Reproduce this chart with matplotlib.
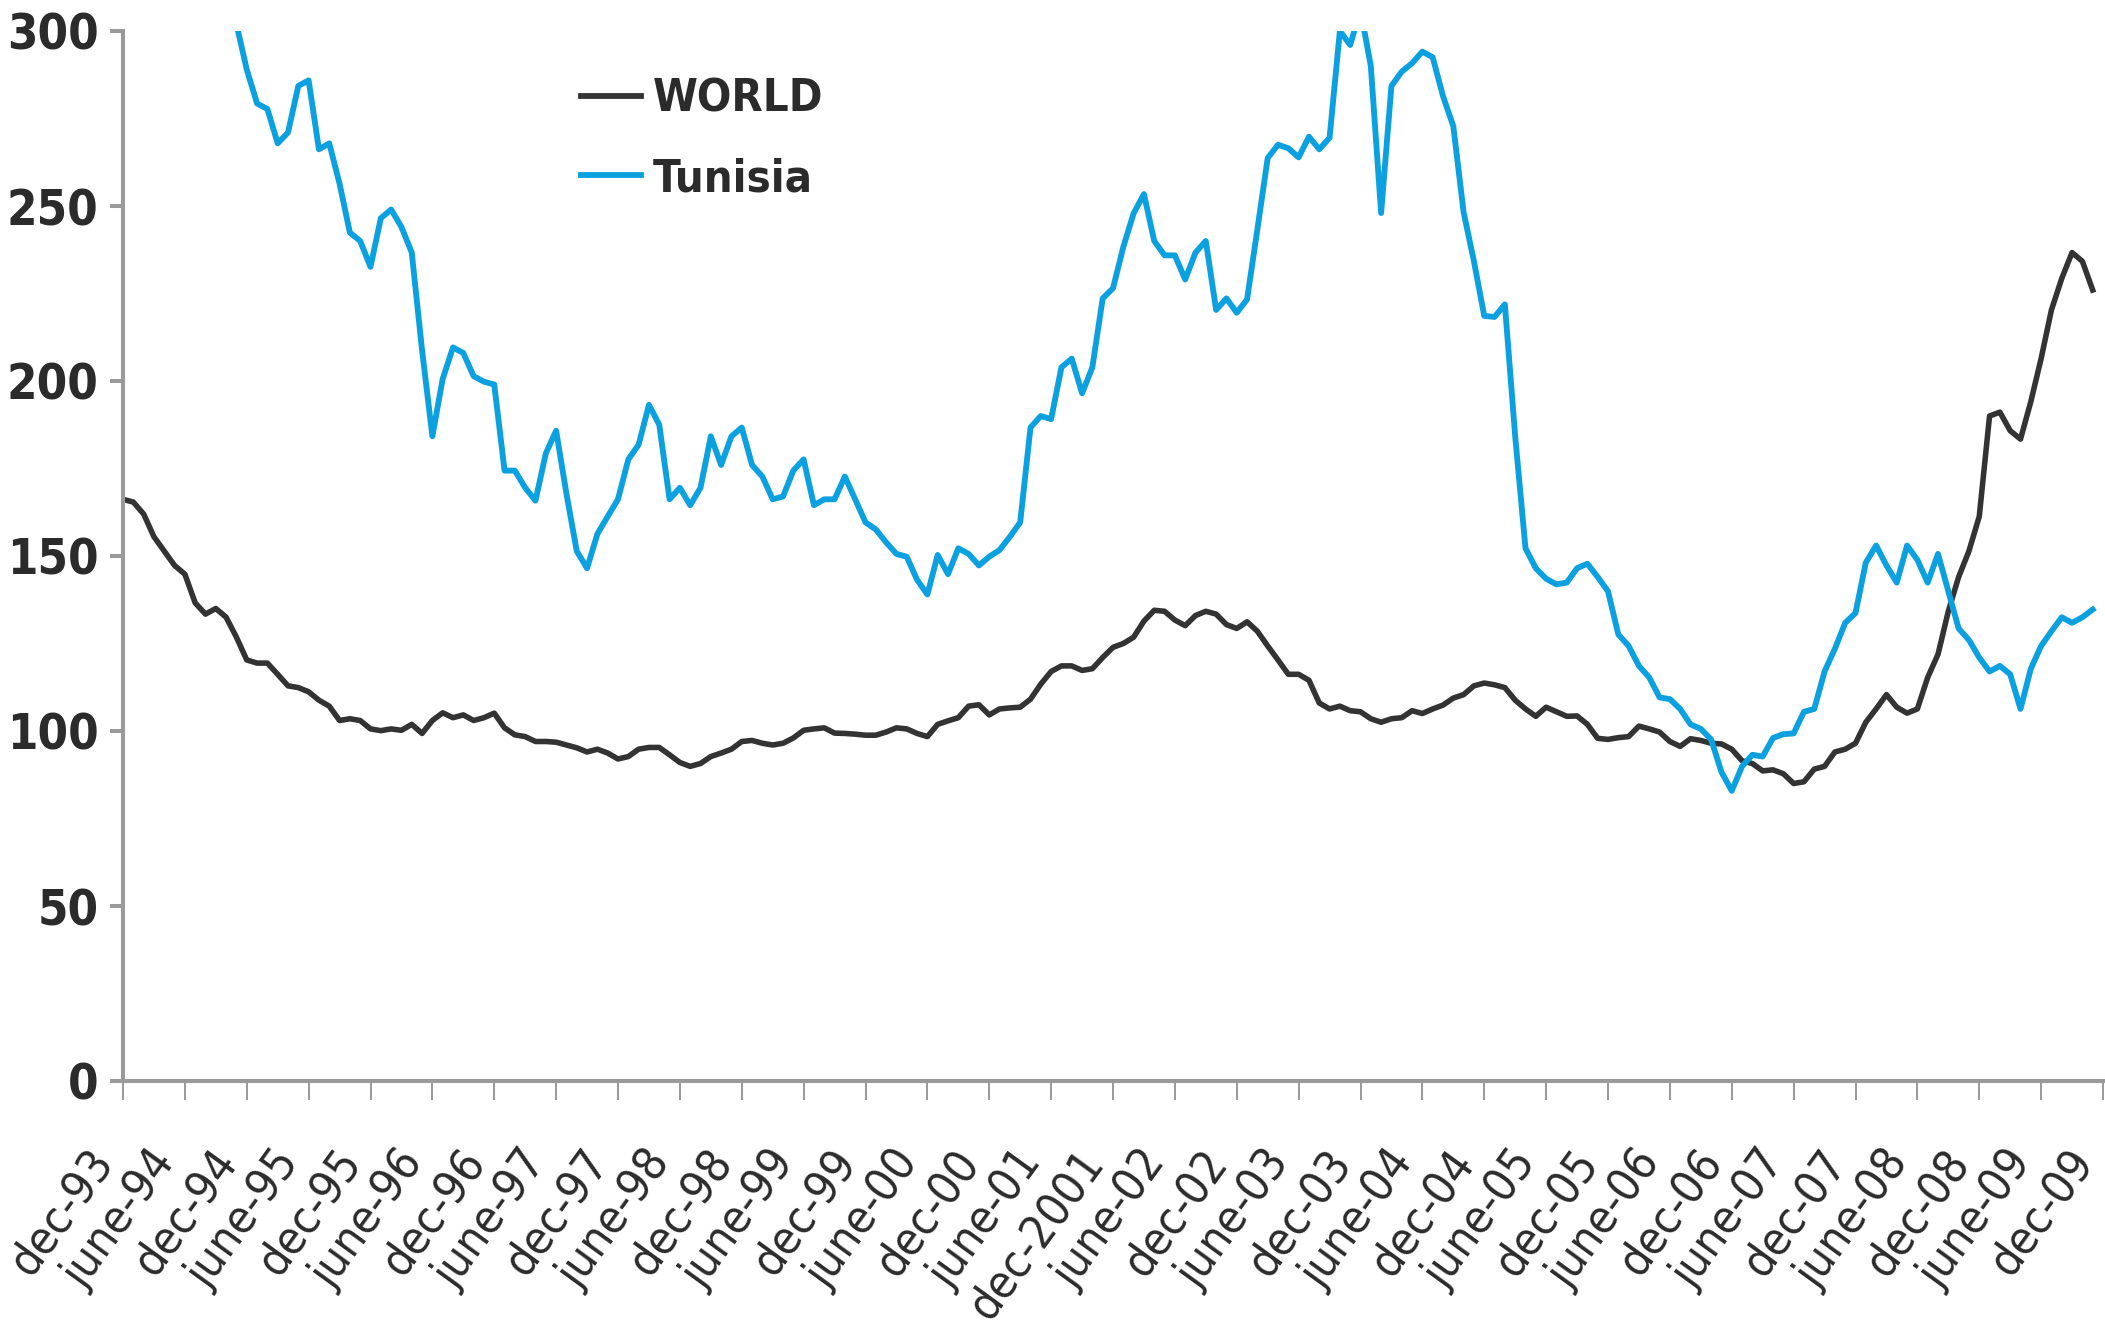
import numpy as np
import matplotlib
matplotlib.use("Agg")
import matplotlib.pyplot as plt
from matplotlib import font_manager as fm

# monthly index values, dec-93 .. nov-09
world = [166.2, 165.4, 162.0, 155.5, 151.4, 147.3, 144.8, 136.6, 133.4, 135.0,
         132.5, 126.8, 120.3, 119.4, 119.4, 116.2, 112.9, 112.4, 111.2, 108.8,
         107.1, 103.0, 103.5, 103.0, 100.6, 100.1, 100.6, 100.2, 101.9, 99.3,
         103.0, 105.2, 103.8, 104.6, 103.0, 103.8, 105.1, 100.9, 98.9, 98.4,
         97.0, 97.0, 96.8, 96.0, 95.2, 94.0, 94.8, 93.7, 92.0, 92.7,
         94.8, 95.3, 95.3, 93.2, 91.0, 89.9, 90.7, 92.7, 93.7, 94.8,
         97.0, 97.3, 96.5, 96.0, 96.5, 98.0, 100.2, 100.6, 100.9, 99.4,
         99.3, 99.1, 98.8, 98.8, 99.7, 100.9, 100.6, 99.3, 98.4, 101.9,
         102.9, 103.8, 107.1, 107.5, 104.6, 106.3, 106.6, 106.8, 109.1, 113.4,
         117.0, 118.6, 118.6, 117.3, 117.8, 121.0, 123.9, 125.0, 126.8, 131.4,
         134.5, 134.2, 131.7, 130.1, 133.0, 134.2, 133.4, 130.4, 129.3, 131.2,
         128.5, 124.3, 120.3, 116.2, 116.2, 114.5, 108.0, 106.3, 107.1, 105.8,
         105.5, 103.5, 102.5, 103.5, 103.8, 105.8, 105.0, 106.3, 107.4, 109.4,
         110.4, 112.9, 113.7, 113.2, 112.4, 108.8, 106.3, 104.2, 106.8, 105.5,
         104.2, 104.3, 101.9, 97.9, 97.6, 98.1, 98.4, 101.4, 100.6, 99.7,
         97.0, 95.6, 97.8, 97.3, 96.5, 96.3, 94.8, 91.5, 90.7, 88.6,
         88.9, 87.8, 85.0, 85.5, 89.1, 89.9, 94.0, 94.8, 96.5, 102.5,
         106.3, 110.4, 106.8, 105.1, 106.3, 115.3, 121.9, 134.2, 144.0, 151.4,
         161.3, 190.0, 191.1, 185.8, 183.4, 194.1, 206.4, 220.3, 229.3, 236.7,
         234.2, 226.0]
nan = np.nan
tunisia = [nan, nan, nan, nan, nan, nan, nan, nan, nan, nan,
           nan, 302.0, 289.0, 279.3, 277.7, 267.9, 271.0, 284.3, 285.9, 266.2,
           267.9, 256.4, 242.4, 240.0, 232.6, 246.5, 249.0, 244.0, 236.7, 208.8,
           184.2, 200.6, 209.6, 208.0, 201.4, 199.8, 199.0, 174.4, 174.4, 169.5,
           165.8, 179.3, 185.8, 167.8, 151.4, 146.5, 156.3, 161.3, 166.2, 177.6,
           181.8, 193.2, 187.5, 166.2, 169.5, 164.5, 169.5, 184.2, 176.0, 184.2,
           186.7, 176.0, 172.7, 166.2, 167.0, 174.4, 177.6, 164.5, 166.2, 166.2,
           172.7, 166.2, 159.6, 157.6, 153.9, 150.6, 149.8, 143.2, 139.0, 150.3,
           144.8, 152.2, 150.6, 147.3, 149.8, 151.7, 155.5, 159.6, 186.7, 190.0,
           189.1, 203.9, 206.4, 196.5, 203.9, 223.6, 226.5, 238.3, 247.9, 253.4,
           240.0, 235.9, 235.9, 229.0, 236.7, 240.0, 220.3, 223.6, 219.5, 223.3,
           243.3, 263.7, 267.5, 266.5, 263.9, 269.8, 266.2, 269.5, 300.0, 296.0,
           306.0, 290.0, 248.0, 284.3, 288.4, 290.8, 294.1, 292.5, 281.4, 272.8,
           248.2, 234.2, 218.6, 218.3, 221.9, 184.2, 152.2, 146.5, 143.5, 141.9,
           142.4, 146.5, 147.8, 144.0, 139.9, 127.6, 124.3, 118.6, 115.3, 109.6,
           109.1, 106.3, 101.9, 100.6, 97.6, 88.3, 82.9, 89.9, 93.2, 92.7,
           98.0, 99.1, 99.3, 105.5, 106.3, 117.0, 123.5, 130.9, 133.7, 148.1,
           153.0, 147.3, 142.4, 153.0, 148.9, 142.4, 150.6, 139.9, 129.3, 126.0,
           121.0, 117.0, 118.6, 116.2, 106.3, 117.8, 124.3, 128.5, 132.5, 130.9,
           132.5, 134.7]
tick_labels = ["dec-93", "june-94", "dec-94", "june-95", "dec-95", "june-96", "dec-96",
               "june-97", "dec-97", "june-98", "dec-98", "june-99", "dec-99", "june-00",
               "dec-00", "june-01", "dec-2001", "june-02", "dec-02", "june-03", "dec-03",
               "june-04", "dec-04", "june-05", "dec-05", "june-06", "dec-06", "june-07",
               "dec-07", "june-08", "dec-08", "june-09", "dec-09"]
yticks = [0, 50, 100, 150, 200, 250, 300]

# the original uses a narrow face; take a condensed one if one is installed
fam, stretch, k = "Liberation Sans", "normal", 0.82
narrow = [f for f in fm.fontManager.ttflist if "Narrow" in f.fname or "Condensed" in f.fname]
if any(f.name == "Liberation Sans Narrow" for f in narrow):
    fam, k = "Liberation Sans Narrow", 1.0
elif any(f.name == "DejaVu Sans" for f in narrow):
    fam, stretch, k = "DejaVu Sans", "condensed", 0.88
plt.rcParams["font.family"] = [fam, "DejaVu Sans"]
plt.rcParams["font.stretch"] = stretch
TXT = "#2b2b2b"; GREY = "#9a9a9a"

fig = plt.figure(figsize=(21.05, 13.3), dpi=100)
ax = fig.add_axes([123/2105, 1-1081/1330, 1980/2105, 1050/1330])
x = np.arange(len(world))
ax.plot(x, world, color="#333333", lw=4.0, label="WORLD", solid_joinstyle="round")
ax.plot(x, tunisia, color="#0ba0e0", lw=4.2, label="Tunisia", solid_joinstyle="round")
ax.set_xlim(0, 6*(len(tick_labels)-1)); ax.set_ylim(0, 300)
ax.set_yticks(yticks); ax.set_yticklabels([str(v) for v in yticks])
ax.set_xticks(np.arange(len(tick_labels))*6)
ax.set_xticklabels(tick_labels, rotation=54, ha="right", va="top")
for s in ["top", "right"]: ax.spines[s].set_visible(False)
for s in ["left", "bottom"]:
    ax.spines[s].set_color(GREY); ax.spines[s].set_linewidth(2.9)
ax.tick_params(axis="y", length=9.5, width=2.9, color=GREY, pad=8, labelsize=40*k, labelcolor=TXT)
ax.tick_params(axis="x", length=13.5, width=1.4, color=GREY, pad=30, labelsize=38*k, labelcolor=TXT)
for t in ax.get_yticklabels(): t.set_fontweight("bold")
leg = ax.legend(loc="upper left", bbox_to_anchor=((581-123)/1980, (1081-78)/1050), frameon=False,
                prop={"size": 37*k, "weight": "bold"}, handlelength=1.17/k, handletextpad=0.25,
                labelspacing=0.8, borderpad=0, borderaxespad=0)
for t in leg.get_texts(): t.set_color(TXT)
for h in leg.get_lines(): h.set_linewidth(4.2)
fig.savefig("out.png", dpi=100)
